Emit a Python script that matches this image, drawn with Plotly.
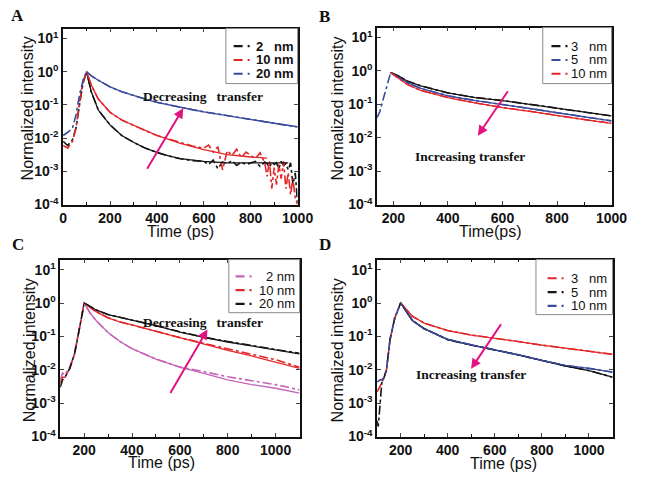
import plotly.graph_objects as go

W, H = 645, 479

# ---------------- Panel A ----------------
tA_data = [0, 20, 40, 55, 70, 85, 100, 120, 150, 200, 250, 300, 350, 400, 450, 500, 550, 600, 620, 640,
           660, 680, 700, 720, 740, 760, 780, 800, 820, 840, 860, 870, 880, 890, 900, 910, 920, 930, 940,
           950, 960, 970, 980, 990, 1000]
dataA_2 = [0.008, 0.006, 0.009, 0.02, 0.1, 0.45, 1.0, 0.25, 0.07, 0.025, 0.012, 0.0075, 0.005, 0.0037, 0.0029,
           0.0024, 0.0021, 0.002, 0.0016, 0.0022, 0.0012, 0.0019, 0.0017, 0.0021, 0.0015, 0.0019, 0.0016,
           0.0018, 0.0020, 0.0014, 0.0019, 0.0017, 0.0013, 0.0019, 0.0016, 0.0018, 0.0012, 0.0020, 0.0015,
           0.0017, 0.0011, 0.0018, 0.0004, 0.0009, 0.0001]
dataA_10 = [0.006, 0.005, 0.008, 0.02, 0.12, 0.5, 1.0, 0.4, 0.15, 0.06, 0.035, 0.024, 0.017, 0.012, 0.0095,
            0.0072, 0.0058, 0.005, 0.0062, 0.0038, 0.0055, 0.0011, 0.0042, 0.0030, 0.0046, 0.0026, 0.0038,
            0.0030, 0.0024, 0.0036, 0.0018, 0.0007, 0.0021, 0.0003, 0.0013, 0.0004, 0.0016, 0.0006, 0.0020,
            0.0003, 0.0009, 0.0002, 0.0006, 0.00015, 0.0001]
dataA_20 = [0.012, 0.015, 0.02, 0.05, 0.2, 0.55, 1.0, 0.75, 0.55, 0.35, 0.25, 0.19, 0.15, 0.12, 0.1, 0.085,
            0.072, 0.062, 0.059, 0.055, 0.052, 0.049, 0.047, 0.045, 0.043, 0.041, 0.039, 0.036, 0.035, 0.033,
            0.031, 0.031, 0.030, 0.029, 0.028, 0.028, 0.027, 0.026, 0.025, 0.025, 0.024, 0.024, 0.023, 0.022,
            0.022]
tA_fit = [100, 120, 150, 200, 250, 300, 350, 400, 450, 500, 600, 700, 800, 900, 960]
fitA_2 = [1.0, 0.25, 0.07, 0.025, 0.012, 0.0075, 0.005, 0.0037, 0.0029, 0.0024, 0.002, 0.0018, 0.0018, 0.0018, 0.0018]
tA_fit10 = [100, 120, 150, 200, 250, 300, 350, 400, 450, 500, 600, 700, 800, 870]
fitA_10 = [1.0, 0.4, 0.15, 0.06, 0.035, 0.024, 0.017, 0.012, 0.009, 0.007, 0.0045, 0.0032, 0.0027, 0.0025]
tA_fit20 = [100, 120, 150, 200, 250, 300, 350, 400, 450, 500, 600, 700, 800, 900, 1000]
fitA_20 = [1.0, 0.75, 0.55, 0.35, 0.25, 0.19, 0.15, 0.12, 0.1, 0.085, 0.062, 0.047, 0.036, 0.028, 0.022]

# ---------------- Panel B ----------------
tB = [190, 220, 250, 300, 350, 400, 500, 600, 700, 800, 900, 1000]
B_3 = [0.9, 0.7, 0.5, 0.36, 0.28, 0.22, 0.16, 0.13, 0.1, 0.077, 0.058, 0.045]
B_5 = [0.9, 0.65, 0.45, 0.3, 0.23, 0.18, 0.13, 0.1, 0.075, 0.056, 0.042, 0.032]
B_10 = [0.88, 0.6, 0.4, 0.26, 0.2, 0.16, 0.11, 0.08, 0.062, 0.046, 0.035, 0.027]
tB_rise = [140, 150, 160, 175, 190]
B_5_rise = [0.04, 0.06, 0.12, 0.35, 0.9]

# ---------------- Panel C ----------------
tC = [100, 110, 120, 140, 160, 180, 190, 200, 225, 250, 300, 350, 400, 500, 600, 700, 800, 900, 1000, 1100]
dataC_2 = [0.005, 0.008, 0.007, 0.012, 0.03, 0.15, 0.4, 1.0, 0.5, 0.3, 0.13, 0.07, 0.043, 0.021, 0.012,
           0.0088, 0.0062, 0.0047, 0.0036, 0.0025]
dataC_10 = [0.004, 0.006, 0.006, 0.011, 0.03, 0.15, 0.4, 1.0, 0.72, 0.55, 0.36, 0.27, 0.22, 0.14, 0.092,
            0.062, 0.042, 0.029, 0.02, 0.012]
dataC_20 = [0.003, 0.005, 0.006, 0.011, 0.03, 0.15, 0.4, 1.0, 0.78, 0.62, 0.45, 0.37, 0.32, 0.21, 0.137,
            0.095, 0.07, 0.053, 0.041, 0.031]
tC_fit = [200, 225, 250, 300, 350, 400, 500, 600, 700, 800, 900, 1000, 1100]
fitC_2 = [1.0, 0.5, 0.3, 0.13, 0.07, 0.043, 0.021, 0.012, 0.0078, 0.005, 0.0036, 0.0028, 0.002]
fitC_10 = [1.0, 0.72, 0.55, 0.36, 0.27, 0.22, 0.14, 0.09, 0.058, 0.038, 0.026, 0.017, 0.011]
fitC_20 = [1.0, 0.78, 0.62, 0.45, 0.37, 0.32, 0.21, 0.135, 0.093, 0.068, 0.052, 0.04, 0.03]

# ---------------- Panel D ----------------
tD = [100, 105, 112, 120, 130, 140, 155, 175, 200, 250, 300, 400, 500, 600, 700, 800, 900, 1000, 1100]
dataD_3 = [0.0022, 0.0025, 0.003, 0.004, 0.006, 0.01, 0.08, 0.35, 1.0, 0.4, 0.25, 0.15, 0.11, 0.09, 0.07,
           0.055, 0.044, 0.036, 0.029]
dataD_5 = [0.0003, 0.0002, 0.0008, 0.004, 0.006, 0.01, 0.08, 0.35, 1.0, 0.3, 0.17, 0.08, 0.055, 0.04, 0.028,
           0.019, 0.013, 0.0095, 0.006]
dataD_10 = [0.0044, 0.0045, 0.005, 0.005, 0.006, 0.01, 0.08, 0.35, 1.0, 0.3, 0.17, 0.082, 0.056, 0.04, 0.028,
            0.019, 0.0135, 0.011, 0.0085]

y_tickvals = [1e-4, 1e-3, 1e-2, 1e-1, 1, 10]
y_ticktext = ["<b>10<sup>-4</sup></b>", "<b>10<sup>-3</sup></b>", "<b>10<sup>-2</sup></b>",
              "<b>10<sup>-1</sup></b>", "<b>10<sup>0</sup></b>", "<b>10<sup>1</sup></b>"]

BLACK = "#151515"
RED = "#E3262A"
BLUE = "#3A4A9E"
PINK = "#C565B8"
ARROW = "#E2127E"
NB = "\u00a0"

legend_labels = {
    "A": [("2" + NB * 3 + "nm", BLACK), ("10 nm", RED), ("20 nm", BLUE)],
    "B": [("3" + NB * 3 + "nm", BLACK), ("5" + NB * 3 + "nm", BLUE), ("10 nm", RED)],
    "C": [("2 nm", PINK), ("10 nm", RED), ("20 nm", BLACK)],
    "D": [("3" + NB * 3 + "nm", RED), ("5" + NB * 3 + "nm", BLACK), ("10 nm", BLUE)],
}

fig = go.Figure()


def add(xa, ya, name, t, v, color, dash="dashdot", width=1.6):
    fig.add_trace(go.Scatter(x=t, y=v, mode="lines", name=name, xaxis=xa, yaxis=ya, showlegend=False,
                             line=dict(color=color, dash=dash, width=width)))


# A
add("x", "y", "2 nm", tA_data, dataA_2, BLACK)
add("x", "y", "10 nm", tA_data, dataA_10, RED)
add("x", "y", "20 nm", tA_data, dataA_20, BLUE)
add("x", "y", "2 nm fit", tA_fit, fitA_2, BLACK, "solid", 1.3)
add("x", "y", "10 nm fit", tA_fit10, fitA_10, RED, "solid", 1.3)
add("x", "y", "20 nm fit", tA_fit20, fitA_20, BLUE, "solid", 1.3)
# B
add("x2", "y2", "3 nm", tB, B_3, BLACK)
add("x2", "y2", "5 nm", tB_rise + tB, B_5_rise + B_5, BLUE)
add("x2", "y2", "10 nm", tB, B_10, RED)
add("x2", "y2", "3 nm fit", tB, B_3, BLACK, "solid", 1.3)
add("x2", "y2", "5 nm fit", tB, B_5, BLUE, "solid", 1.3)
add("x2", "y2", "10 nm fit", tB, B_10, RED, "solid", 1.3)
# C
add("x3", "y3", "2 nm", tC, dataC_2, PINK)
add("x3", "y3", "10 nm", tC, dataC_10, RED)
add("x3", "y3", "20 nm", tC, dataC_20, BLACK)
add("x3", "y3", "2 nm fit", tC_fit, fitC_2, PINK, "solid", 1.3)
add("x3", "y3", "10 nm fit", tC_fit, fitC_10, RED, "solid", 1.3)
add("x3", "y3", "20 nm fit", tC_fit, fitC_20, BLACK, "solid", 1.3)
# D
add("x4", "y4", "3 nm", tD, dataD_3, RED)
add("x4", "y4", "5 nm", tD, dataD_5, BLACK)
add("x4", "y4", "10 nm", tD, dataD_10, BLUE)
add("x4", "y4", "3 nm fit", tD[8:], dataD_3[8:], RED, "solid", 1.3)
add("x4", "y4", "5 nm fit", tD[8:], dataD_5[8:], BLACK, "solid", 1.3)
add("x4", "y4", "10 nm fit", tD[8:], dataD_10[8:], BLUE, "solid", 1.3)

# panel pixel boxes: (left, right, top, bottom)
boxes = {
    "1": (61, 303, 29, 208),
    "2": (385, 627, 28, 208),
    "3": (58, 305, 264, 444),
    "4": (385, 628, 264, 444),
}
xranges = {"1": [0, 1000], "2": [140, 1000], "3": [100, 1100], "4": [100, 1100]}
xticks = {"1": [0, 200, 400, 600, 800, 1000], "2": [200, 400, 600, 800, 1000],
          "3": [200, 400, 600, 800, 1000], "4": [200, 400, 600, 800, 1000]}

tickfont = dict(family="Liberation Sans, Arial", size=14, color="#111")
layout = dict(width=W, height=H, margin=dict(l=0, r=0, t=0, b=0), paper_bgcolor="white",
              plot_bgcolor="white", showlegend=False)
for k, (l, r, t, b) in boxes.items():
    sx = "" if k == "1" else k
    layout["xaxis" + sx] = dict(domain=[l / W, r / W], anchor="y" + sx, range=xranges[k],
                                tickvals=xticks[k], ticktext=["<b>%d</b>" % v for v in xticks[k]],
                                ticks="inside", ticklen=4, tickwidth=1.2,
                                showline=True, linecolor="#111", linewidth=1.5, mirror="ticks",
                                showgrid=False, zeroline=False, tickfont=tickfont,
                                minor=dict(ticks="inside", ticklen=2.5, dtick=100, tickcolor="#111"))
    layout["yaxis" + sx] = dict(domain=[1 - b / H, 1 - t / H], anchor="x" + sx, type="log",
                                range=[-4, 1.3], tickvals=y_tickvals, ticktext=y_ticktext,
                                ticks="inside", ticklen=4, tickwidth=1.2, showline=True,
                                linecolor="#111", linewidth=1.5, mirror="ticks", showgrid=False,
                                zeroline=False, tickfont=tickfont)
fig.update_layout(**layout)

ann = []
shapes = []
title_font = dict(family="Liberation Sans, Arial", size=16, color="#111")
# y titles
for (x, y) in [(24, 110), (344, 110), (26, 356), (344, 356)]:
    ann.append(dict(text="Normalized intensity", x=x / W, y=1 - y / H, xref="paper", yref="paper",
                    showarrow=False, textangle=-90, font=title_font, xanchor="center", yanchor="middle"))
# x titles
for (txt, x, y) in [("Time (ps)", 182, 235), ("Time(ps)", 502, 235), ("Time (ps)", 163, 470),
                    ("Time (ps)", 515, 471)]:
    ann.append(dict(text=txt, x=x / W, y=1 - y / H, xref="paper", yref="paper", showarrow=False,
                    font=title_font, xanchor="center", yanchor="middle"))
# panel letters
letter_font = dict(family="Liberation Serif, Times New Roman", size=17, color="#111")
for (txt, x, y) in [("A", 14, 16), ("B", 331, 17), ("C", 14, 249), ("D", 331, 249)]:
    ann.append(dict(text="<b>%s</b>" % txt, x=x / W, y=1 - y / H, xref="paper", yref="paper",
                    showarrow=False, font=letter_font, xanchor="center", yanchor="middle"))
# text labels
lab_font = dict(family="Liberation Serif, Times New Roman", size=13.5, color="#111")
for (txt, x, y) in [("Decreasing" + NB * 3 + "transfer", 205, 98), ("Increasing transfer", 481, 159),
                    ("Decreasing" + NB * 3 + "transfer", 205, 328), ("Increasing transfer", 482, 381)]:
    ann.append(dict(text="<b>%s</b>" % txt, x=x / W, y=1 - y / H, xref="paper", yref="paper",
                    showarrow=False, font=lab_font, xanchor="center", yanchor="middle"))
# arrows: (tail_x, tail_y, head_x, head_y)
for (tx, ty, hx, hy) in [(148, 172, 185, 110), (520, 92, 489, 138), (172, 400, 210, 335),
                         (513, 329, 482, 375)]:
    ann.append(dict(text="", x=hx / W, y=1 - hy / H, xref="paper", yref="paper", showarrow=True,
                    ax=tx - hx, ay=ty - hy, axref="pixel", ayref="pixel", arrowhead=2, arrowsize=1,
                    arrowwidth=2, arrowcolor=ARROW))

# legends (box, entry rows, sample x, text right edge, bold?)
legend_geom = {
    "A": ((229, 29, 303, 85), [47, 61, 75], (237, 256), 301, True),
    "B": ((556, 28, 627, 85), [47, 61, 75], (565, 584), 624, False),
    "C": ((232, 264, 305, 318), [281, 295, 309], (239, 258), 302, False),
    "D": ((549, 264, 628, 320), [283, 297, 311], (561, 580), 624, False),
}
leg_font = dict(family="Liberation Sans, Arial", size=13, color="#111")
for key, ((x0, y0, x1, y1), rows, (sx0, sx1), tr, bold) in legend_geom.items():
    shapes.append(dict(type="rect", xref="paper", yref="paper", x0=x0 / W, x1=x1 / W, y0=1 - y1 / H,
                       y1=1 - y0 / H, line=dict(color="#8a8a8a", width=1), fillcolor="white", layer="above"))
    for (label, color), ry in zip(legend_labels[key], rows):
        shapes.append(dict(type="line", xref="paper", yref="paper", x0=sx0 / W, x1=sx1 / W,
                           y0=1 - ry / H, y1=1 - ry / H, layer="above",
                           line=dict(color=color, width=2.2, dash="9px,5px,2px,6px")))
        txt = "<b>%s</b>" % label if bold else label
        ann.append(dict(text=txt, x=tr / W, y=1 - ry / H, xref="paper", yref="paper", showarrow=False,
                        font=leg_font, xanchor="right", yanchor="middle"))

fig.update_layout(annotations=ann, shapes=shapes)
fig.write_html("out.html")
